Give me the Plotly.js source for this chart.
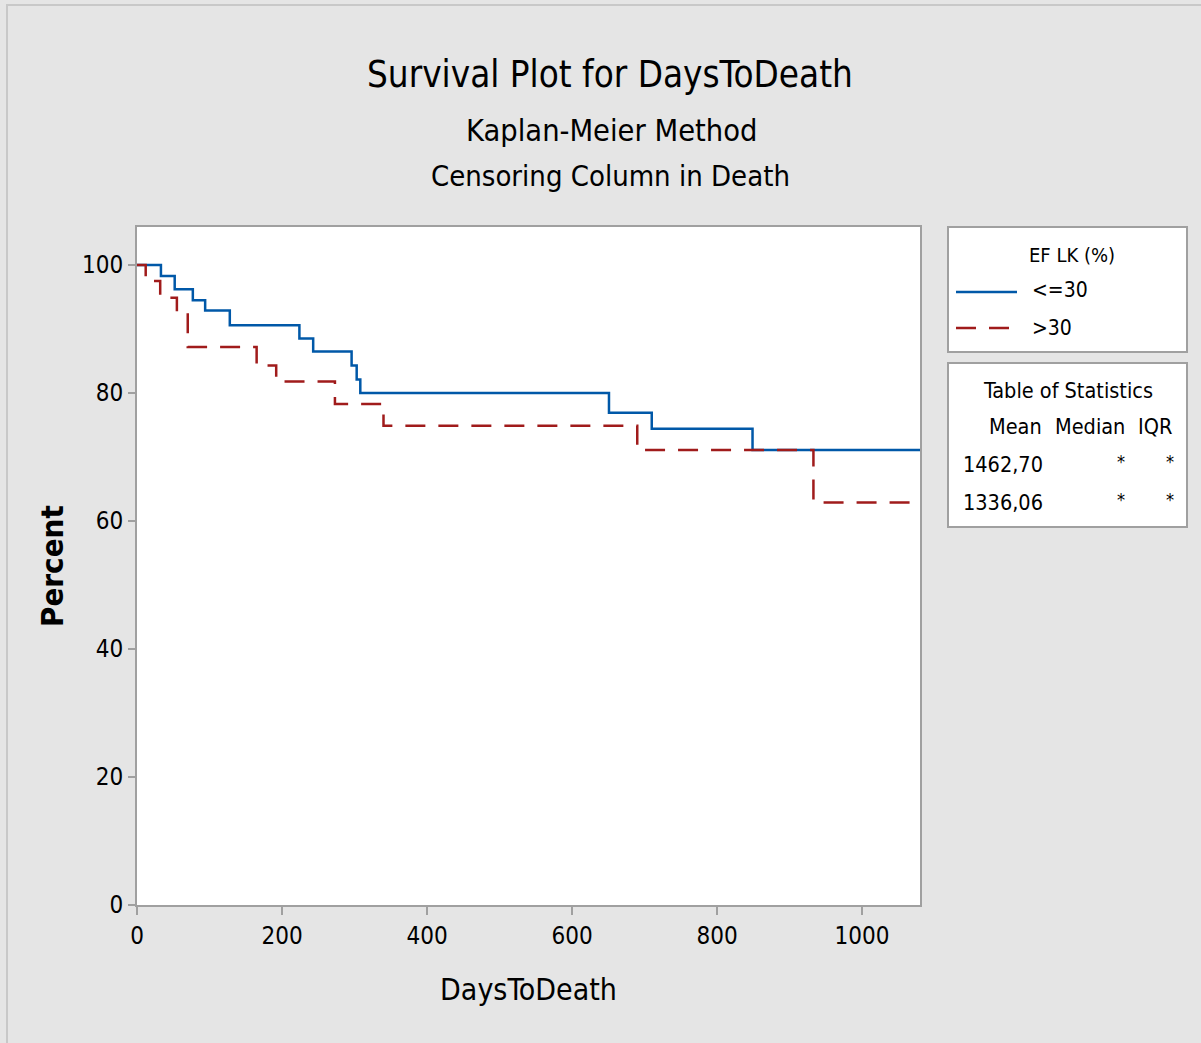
<!DOCTYPE html>
<html><head><meta charset="utf-8">
<script src="https://cdn.plot.ly/plotly-3.0.1.min.js"></script>
<style>html,body{margin:0;padding:0;background:#E5E5E5;}</style>
</head><body>
<div id="chart" style="width:1201px;height:1043px;"></div>
<script>
// Data
const groupNames = ["<=30", ">30"];
const daysLE30 = [0, 33, 52, 77, 94, 128, 224, 243, 296, 303, 308, 651, 710, 849, 1080];
const pctLE30  = [100, 98.3, 96.2, 94.5, 92.9, 90.6, 88.5, 86.5, 84.3, 82.1, 80.0, 76.9, 74.4, 71.1, 71.1];
const daysGT30 = [0, 12, 32, 55, 70, 165, 192, 273, 340, 690, 933, 1075];
const pctGT30  = [100, 97.5, 94.9, 92.5, 87.2, 84.3, 81.8, 78.3, 74.9, 71.1, 62.9, 62.9];
const statHeaders = ["Mean", "Median", "IQR"];
const statMeans = ["1462,70", "1336,06"];
const statMedians = ["*", "*"];
const statIQR = ["*", "*"];
const xTicks = [0, 200, 400, 600, 800, 1000];
const yTicks = [0, 20, 40, 60, 80, 100];

const FONT = '"DejaVu Sans Condensed", "Liberation Sans Narrow", "Open Sans", sans-serif';
const BLUE = '#0058A8';
const RED = '#A01B1B';

// plot area in pixels
const L = 137, R = 920, T = 227, B = 905, W = 1201, H = 1043;
const px = x => (x - L) / (R - L);
const py = y => (B - y) / (B - T);

const traces = [
  {x: daysLE30, y: pctLE30, name: groupNames[0], mode: 'lines', line: {shape: 'hv', color: BLUE, width: 2.5}, showlegend: false},
  {x: daysGT30, y: pctGT30, name: groupNames[1], mode: 'lines', line: {shape: 'hv', color: RED, width: 2.5, dash: '20px,13px'}, showlegend: false}
];

const ann = [];
function txt(text, x, y, size, anchor, extra) {
  ann.push(Object.assign({text: text, x: px(x), y: py(y), xref: 'paper', yref: 'paper',
    xanchor: anchor || 'center', yanchor: 'middle', showarrow: false,
    font: {family: FONT, size: size, color: '#000'}}, extra || {}));
}
txt('Survival Plot for DaysToDeath', 610, 75, 36.5);
txt('Kaplan-Meier Method', 611, 130, 30.5);
txt('Censoring Column in Death', 610, 176, 29);
txt('EF LK (%)', 1072, 255, 20);
txt(groupNames[0], 1030, 290, 21, 'left');
txt(groupNames[1], 1030, 328, 21, 'left');
txt('Table of Statistics', 1068, 390, 21.5);
txt(statHeaders[0], 1015, 426, 21.5);
txt(statHeaders[1], 1090, 426, 21.5);
txt(statHeaders[2], 1155, 426, 21.5);
for (let i = 0; i < statMeans.length; i++) {
  const yy = 464 + i * 38;
  txt(statMeans[i], 961, yy, 21.5, 'left');
  txt(statMedians[i], 1121, yy - 3, 18);
  txt(statIQR[i], 1170, yy - 3, 18);
}
// y axis title
txt('<b>Percent</b>', 52, 566, 31, 'center', {textangle: -90});

const shapes = [
  // outer frame
  {type: 'rect', xref: 'paper', yref: 'paper', x0: px(7), x1: px(1210), y0: py(1050), y1: py(5), line: {color: '#C8C8C8', width: 2}, fillcolor: 'rgba(0,0,0,0)', layer: 'below'},
  // legend box
  {type: 'rect', xref: 'paper', yref: 'paper', x0: px(948), x1: px(1187), y0: py(352), y1: py(227), line: {color: '#A0A0A0', width: 2}, fillcolor: '#FFFFFF', layer: 'below'},
  // stats box
  {type: 'rect', xref: 'paper', yref: 'paper', x0: px(948), x1: px(1187), y0: py(527), y1: py(363), line: {color: '#A0A0A0', width: 2}, fillcolor: '#FFFFFF', layer: 'below'},
  // legend samples
  {type: 'line', xref: 'paper', yref: 'paper', x0: px(956), x1: px(1017), y0: py(292), y1: py(292), line: {color: BLUE, width: 2.5}},
  {type: 'line', xref: 'paper', yref: 'paper', x0: px(956), x1: px(1014), y0: py(328), y1: py(328), line: {color: RED, width: 2.5, dash: '20px,13px'}}
];

const axisCommon = {
  showgrid: false, zeroline: false, showline: true, linecolor: '#A0A0A0', linewidth: 2,
  mirror: true, ticks: 'outside', ticklen: 8, tickwidth: 2, tickcolor: '#A0A0A0',
  tickfont: {family: FONT, size: 24, color: '#000'}, automargin: false, fixedrange: true
};

const layout = {
  width: W, height: H,
  margin: {l: L, r: W - R, t: T, b: H - B, pad: 0},
  paper_bgcolor: '#E5E5E5', plot_bgcolor: '#FFFFFF',
  showlegend: false,
  xaxis: Object.assign({}, axisCommon, {range: [0, 1080], tickvals: xTicks, ticktext: xTicks.map(String),
    title: {text: 'DaysToDeath', font: {family: FONT, size: 30, color: '#000'}, standoff: 30}}),
  yaxis: Object.assign({}, axisCommon, {range: [0, 105.94], tickvals: yTicks, ticktext: yTicks.map(String), ticklen: 7}),
  annotations: ann,
  shapes: shapes
};

Plotly.newPlot('chart', traces, layout, {displayModeBar: false, staticPlot: true});
</script>
</body></html>
